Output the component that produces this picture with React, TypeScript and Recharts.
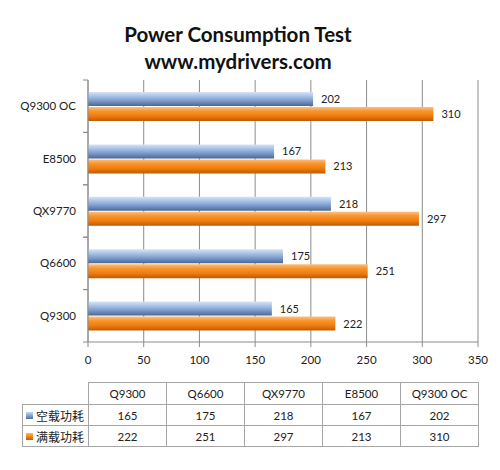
import React from 'react';
import { BarChart, Bar, XAxis, YAxis, CartesianGrid, LabelList } from 'recharts';

const titleLines = ['Power Consumption Test', 'www.mydrivers.com'];
const categories = ['Q9300', 'Q6600', 'QX9770', 'E8500', 'Q9300 OC'];
const idleValues = [165, 175, 218, 167, 202];
const loadValues = [222, 251, 297, 213, 310];
const seriesNames = ['空载功耗', '满载功耗'];
const xTicks = [0, 50, 100, 150, 200, 250, 300, 350];

const data = categories.map((c, i) => ({ name: c, idle: idleValues[i], load: loadValues[i] }));

const PLOT_LEFT = 88;
const PLOT_TOP = 80;
const PLOT_BOTTOM = 342;
const BAND = (PLOT_BOTTOM - PLOT_TOP) / categories.length;
const FONT = 'Lato, "Noto Sans", sans-serif';
const GRID = '#8c8c8c';

function CatTick(props: any) {
  const { y, payload } = props;
  return (
    <g>
      <text x={PLOT_LEFT - 12} y={y} dy="0.35em" textAnchor="end" fontSize={11.5} fontFamily={FONT} fill="#222">
        {payload.value}
      </text>
      <line x1={PLOT_LEFT - 5} x2={PLOT_LEFT} y1={y - BAND / 2} y2={y - BAND / 2} stroke={GRID} />
      <line x1={PLOT_LEFT - 5} x2={PLOT_LEFT} y1={y + BAND / 2} y2={y + BAND / 2} stroke={GRID} />
    </g>
  );
}

const blueSwatch = 'linear-gradient(#c6d9f1, #7f9fd0 55%, #4f6f9f)';
const orangeSwatch = 'linear-gradient(#fcb56a, #f47f10 55%, #c25f08)';

export default function App() {
  const cell: React.CSSProperties = {
    border: '1px solid #a6a6a6',
    textAlign: 'center',
    fontFamily: FONT,
    fontSize: 11.5,
    color: '#222',
    padding: 0,
  };
  const rows = [
    { label: seriesNames[0], values: idleValues, swatch: blueSwatch },
    { label: seriesNames[1], values: loadValues, swatch: orangeSwatch },
  ];
  return (
    <div style={{ position: 'absolute', left: 0, top: 0, width: 500, height: 470, background: '#fff', overflow: 'hidden' }}>
      <div
        style={{
          position: 'absolute',
          left: 0,
          top: 21,
          width: 476,
          textAlign: 'center',
          fontFamily: FONT,
          fontWeight: 700,
          fontSize: 20.5,
          lineHeight: '27px',
          color: '#111',
        }}
      >
        <div>{titleLines[0]}</div>
        <div>{titleLines[1]}</div>
      </div>
      <div style={{ position: 'absolute', left: 0, top: 0 }}>
        <BarChart
          width={500}
          height={367}
          data={data}
          layout="vertical"
          margin={{ top: PLOT_TOP, right: 22, bottom: 0, left: 0 }}
          barGap={1}
        >
          <defs>
            <linearGradient id="gBlue" x1="0" y1="0" x2="0" y2="1">
              <stop offset="0%" stopColor="#d6e4f5" />
              <stop offset="30%" stopColor="#a9c2e6" />
              <stop offset="60%" stopColor="#7f9fd0" />
              <stop offset="100%" stopColor="#4a6896" />
            </linearGradient>
            <linearGradient id="gOrange" x1="0" y1="0" x2="0" y2="1">
              <stop offset="0%" stopColor="#fcc080" />
              <stop offset="30%" stopColor="#f8942c" />
              <stop offset="65%" stopColor="#f07c0c" />
              <stop offset="100%" stopColor="#bd5a06" />
            </linearGradient>
          </defs>
          <CartesianGrid horizontal={false} stroke={GRID} />
          <XAxis
            type="number"
            domain={[0, 350]}
            ticks={xTicks}
            interval={0}
            height={25}
            tickSize={5}
            tickMargin={9}
            tick={{ fontSize: 11.5, fontFamily: FONT, fill: '#222' }}
            axisLine={{ stroke: GRID }}
            tickLine={{ stroke: GRID }}
          />
          <YAxis
            type="category"
            dataKey="name"
            reversed
            width={PLOT_LEFT}
            tick={<CatTick />}
            tickLine={false}
            axisLine={{ stroke: GRID }}
            interval={0}
          />
          <Bar dataKey="idle" name={seriesNames[0]} fill="url(#gBlue)" barSize={14} isAnimationActive={false}>
            <LabelList dataKey="idle" position="right" offset={8} fontSize={11} fontFamily={FONT} fill="#222" />
          </Bar>
          <Bar dataKey="load" name={seriesNames[1]} fill="url(#gOrange)" barSize={14} isAnimationActive={false}>
            <LabelList dataKey="load" position="right" offset={8} fontSize={11} fontFamily={FONT} fill="#222" />
          </Bar>
        </BarChart>
      </div>
      <table
        style={{
          position: 'absolute',
          left: 22,
          top: 382,
          width: 457,
          borderCollapse: 'collapse',
          tableLayout: 'fixed',
        }}
      >
        <colgroup>
          <col style={{ width: 66 }} />
          {categories.map((c) => (
            <col key={c} style={{ width: 78 }} />
          ))}
        </colgroup>
        <tbody>
          <tr style={{ height: 22 }}>
            <td style={{ border: 'none' }} />
            {categories.map((c) => (
              <td key={c} style={cell}>
                {c}
              </td>
            ))}
          </tr>
          {rows.map((r) => (
            <tr key={r.label} style={{ height: 21 }}>
              <td style={{ ...cell, textAlign: 'left', whiteSpace: 'nowrap' }}>
                <span
                  style={{
                    display: 'inline-block',
                    width: 7,
                    height: 7,
                    background: r.swatch,
                    marginLeft: 3,
                    marginRight: 3,
                    verticalAlign: 'middle',
                  }}
                />
                <span
                  style={{
                    fontFamily: '"Noto Sans CJK SC", sans-serif',
                    fontSize: 12,
                    verticalAlign: 'middle',
                  }}
                >
                  {r.label}
                </span>
              </td>
              {r.values.map((v, i) => (
                <td key={categories[i]} style={cell}>
                  {v}
                </td>
              ))}
            </tr>
          ))}
        </tbody>
      </table>
    </div>
  );
}
